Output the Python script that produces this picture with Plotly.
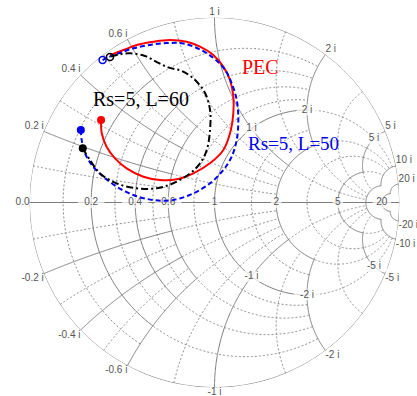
import numpy as np
import plotly.graph_objects as go

# ---------------- data: normalized impedance z = r + j x -------------
pec_re = [0.152, 0.179, 0.219, 0.270, 0.335, 0.430, 0.531, 0.643, 0.759, 0.872, 0.929, 0.871,
          0.728, 0.584, 0.434, 0.317, 0.221, 0.152, 0.107, 0.074, 0.054, 0.036, 0.027, 0.015]
pec_im = [0.318, 0.274, 0.232, 0.197, 0.167, 0.144, 0.144, 0.171, 0.249, 0.387, 0.575, 0.764,
          0.928, 1.009, 1.036, 1.015, 0.967, 0.900, 0.836, 0.760, 0.688, 0.621, 0.567, 0.517]

l50_re = [0.104, 0.121, 0.148, 0.192, 0.240, 0.304, 0.389, 0.503, 0.636, 0.791, 0.933, 1.031,
          1.052, 0.981, 0.819, 0.628, 0.466, 0.337, 0.240, 0.168, 0.111, 0.082, 0.060, 0.041,
          0.029, 0.016, 0.013]
l50_im = [0.251, 0.220, 0.180, 0.139, 0.108, 0.073, 0.039, 0.015, 0.018, 0.080, 0.196, 0.375,
          0.560, 0.760, 0.931, 1.025, 1.041, 1.020, 0.963, 0.896, 0.817, 0.741, 0.669, 0.603,
          0.551, 0.502, 0.486]

l60_re = [0.135, 0.173, 0.224, 0.302, 0.404, 0.519, 0.624, 0.733, 0.786, 0.787, 0.703, 0.577,
          0.445, 0.332, 0.246, 0.193, 0.142, 0.092, 0.051, 0.030, 0.020]
l60_im = [0.194, 0.161, 0.119, 0.088, 0.076, 0.089, 0.138, 0.241, 0.351, 0.487, 0.652, 0.770,
          0.813, 0.798, 0.753, 0.697, 0.661, 0.629, 0.582, 0.541, 0.513]

series_names = ["PEC", "Rs=5, L=50", "Rs=5, L=60"]

# ---------------- chart grid / tick values ----------------
# (value, from, to): constant-resistance circles over |x| in [from, to]
solid_r = [(0.2, 0, 0.6), (0.4, 0, 0.6), (0.6, 0, 0.6), (1, 0, 2), (2, 0, 2),
           (5, 0, 5), (10, 0, 10), (20, 0, 20)]
# (value, from, to): constant-reactance arcs +-value over r in [from, to]
solid_x = [(0.2, 0, 0.6), (0.4, 0, 0.6), (0.6, 0, 0.6), (1, 0, 2), (2, 0, 2),
           (5, 0, 5), (10, 0, 10), (20, 0, 20)]
dotted_r = [(0.1, 0, 0.6), (0.3, 0, 0.6), (0.5, 0, 0.6),
            (0.2, 0.6, 2), (0.4, 0.6, 2), (0.6, 0.6, 2), (0.8, 0, 2), (1.5, 0, 2),
            (1, 2, 5), (2, 2, 5), (3, 0, 5),
            (1, 5, 10), (2, 5, 10), (3, 5, 10), (5, 5, 10)]
dotted_x = [(0.1, 0, 0.6), (0.3, 0, 0.6), (0.5, 0, 0.6),
            (0.2, 0.6, 2), (0.4, 0.6, 2), (0.6, 0.6, 2), (0.8, 0, 2), (1.5, 0, 2),
            (1, 2, 5), (2, 2, 5), (3, 0, 5),
            (1, 5, 10), (2, 5, 10), (3, 5, 10), (5, 5, 10)]

real_tick_vals = [0, 0.2, 0.4, 0.6, 1, 2, 5, 20]
real_tick_text = ["0.0", "0.2", "0.4", "0.6", "1", "2", "5", "20"]
imag_tick_vals = [0.2, 0.4, 0.6, 1, 2, 5, 10, 20]
inner_imag_vals = [1, 2, 5]


def fmt_i(v):
    return ("%g" % v) + " i"


# ---------------- build grid polylines ----------------
def r_arc(r, x1, x2, n=160):
    s = np.linspace(np.arctan(x1 / (1 + r)), np.arctan(x2 / (1 + r)), n)
    xs = (1 + r) * np.tan(s)
    return [r] * n, list(xs)


def x_arc(x, r1, r2, n=160):
    s = np.linspace(np.arctan(r1 / abs(x)), np.arctan(r2 / abs(x)), n)
    rs = abs(x) * np.tan(s)
    return list(rs), [x] * n


def collect(rspec, xspec):
    re, im = [], []
    for v, a, b in rspec:
        segs = [(-b, b)] if a == 0 else [(a, b), (-b, -a)]
        for lo, hi in segs:
            R, X = r_arc(v, lo, hi)
            re += R + [None]
            im += X + [None]
    for v, a, b in xspec:
        for sgn in (1, -1):
            R, X = x_arc(sgn * v, a, b)
            re += R + [None]
            im += X + [None]
    return re, im


sol_re, sol_im = collect(solid_r, solid_x)
dot_re, dot_im = collect(dotted_r, dotted_x)
oc_re, oc_im = r_arc(0, -1e5, 1e5, 400)
sol_re += oc_re + [None, 0, 1e5]
sol_im += oc_im + [None, 0, 0]

fig = go.Figure()
fig.add_trace(go.Scattersmith(real=dot_re, imag=dot_im, mode="lines", connectgaps=False,
                              line=dict(color="#8a8a8a", width=1, dash="2px,2px"),
                              hoverinfo="skip", showlegend=False))
fig.add_trace(go.Scattersmith(real=sol_re, imag=sol_im, mode="lines", connectgaps=False,
                              line=dict(color="#7c7c7c", width=1),
                              hoverinfo="skip", showlegend=False))

# ---------------- tick labels ----------------
TICKFONT = dict(family="Liberation Sans, Arial", size=10, color="#555555")

bg_re = list(real_tick_vals[1:]) + [1] * (2 * len(inner_imag_vals))
bg_im = [0] * (len(real_tick_vals) - 1) + inner_imag_vals + [-v for v in inner_imag_vals]
bg_w = [len(t) * 5.6 + 2 for t in real_tick_text[1:]] + [15] * len(inner_imag_vals) + [19] * len(inner_imag_vals)
fig.add_trace(go.Scattersmith(real=bg_re, imag=bg_im, mode="markers", cliponaxis=False,
                              marker=dict(symbol="line-ew", size=bg_w, color="white",
                                          line=dict(color="white", width=11)),
                              hoverinfo="skip", showlegend=False))

lab_re, lab_im, lab_txt, lab_pos = [], [], [], []
for v, t in zip(real_tick_vals, real_tick_text):
    lab_re.append(v); lab_im.append(0); lab_txt.append(t)
    lab_pos.append("middle left" if v == 0 else "middle center")
for v in imag_tick_vals:
    for sgn in (1, -1):
        lab_re.append(0); lab_im.append(sgn * v); lab_txt.append(fmt_i(sgn * v))
        vert = "top" if sgn > 0 else "bottom"
        hor = "left" if v < 1 else ("center" if v == 1 else "right")
        lab_pos.append(vert + " " + hor)
for v in inner_imag_vals:
    for sgn in (1, -1):
        lab_re.append(1); lab_im.append(sgn * v); lab_txt.append(fmt_i(sgn * v))
        lab_pos.append("middle center")
fig.add_trace(go.Scattersmith(real=lab_re, imag=lab_im, mode="text", text=lab_txt,
                              textposition=lab_pos, textfont=TICKFONT, cliponaxis=False,
                              hoverinfo="skip", showlegend=False))

# ---------------- data curves ----------------
series = [
    (pec_re, pec_im, "#ff0000", "solid"),
    (l50_re, l50_im, "#0000ee", "5px,3px"),
    (l60_re, l60_im, "#000000", "7px,3px,2px,3px"),
]
for (re, im, col, dash), name in zip(series, series_names):
    fig.add_trace(go.Scattersmith(real=re, imag=im, mode="lines", name=name,
                                  line=dict(color=col, width=2, dash=dash, shape="spline"),
                                  showlegend=False))
for (re, im, col, dash), name in zip(series, series_names):
    fig.add_trace(go.Scattersmith(real=[re[0]], imag=[im[0]], mode="markers",
                                  marker=dict(symbol="circle", size=8, color=col),
                                  showlegend=False, hoverinfo="skip"))
    if name != "PEC":
        fig.add_trace(go.Scattersmith(real=[re[-1]], imag=[im[-1]], mode="markers",
                                      marker=dict(symbol="circle-open", size=7, color=col,
                                                  line=dict(width=1.5)),
                                      showlegend=False, hoverinfo="skip"))

W, H = 417, 396
cx, cy, R = 214.5, 202.5, 185.0
SERIF = "Liberation Serif, Times New Roman"


def label(px, py, text, color, size=20):
    return dict(x=px / W, y=1 - py / H, xref="paper", yref="paper", text=text, showarrow=False,
                xanchor="center", yanchor="middle", borderpad=0,
                font=dict(family=SERIF, size=size, color=color))


fig.update_layout(
    width=W, height=H, margin=dict(l=0, r=0, t=0, b=0),
    paper_bgcolor="white", plot_bgcolor="white", hovermode=False,
    smith=dict(
        domain=dict(x=[(cx - R) / W, (cx + R) / W], y=[1 - (cy + R) / H, 1 - (cy - R) / H]),
        bgcolor="white",
        realaxis=dict(showgrid=False, showline=False, showticklabels=False, ticks=""),
        imaginaryaxis=dict(showgrid=False, showline=False, showticklabels=False, ticks=""),
    ),
    annotations=[
        label(260.5, 67, "PEC", "#ff0000"),
        label(141, 99, "Rs=5, L=60", "#000000"),
        label(293, 143, "Rs=5, L=50", "#0000ee", 19),
    ],
)
fig.write_html("out.html")
